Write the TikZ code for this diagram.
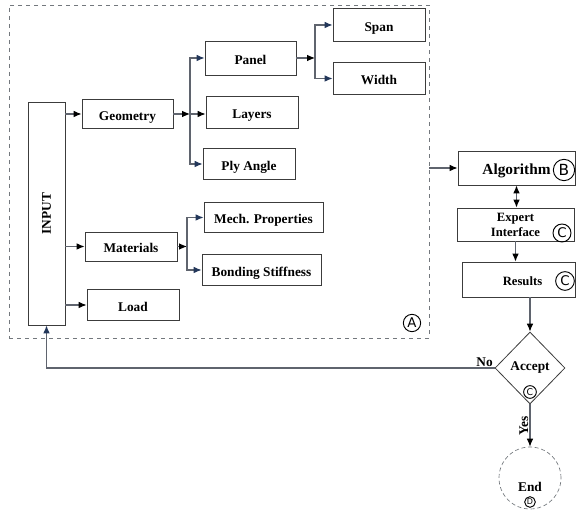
\documentclass[tikz,border=0pt]{standalone}
\usepackage{fontspec}
\setmainfont{Liberation Serif}
\newfontfamily\circfont{DejaVu Sans}
\usepackage{xcolor}
\usetikzlibrary{shapes.geometric,arrows.meta,positioning,calc}
\definecolor{boxgray}{RGB}{60,60,60}
\definecolor{framegray}{RGB}{115,120,125}
\definecolor{linegray}{RGB}{95,100,110}
\definecolor{tipblue}{RGB}{35,55,90}

\begin{document}
\begin{tikzpicture}[
    x=0.75pt, y=-0.75pt,
    block/.style={rectangle, draw=boxgray, line width=0.65pt, inner sep=1pt, text height=9.5pt, text depth=0pt, font=\bfseries\fontsize{10}{12}\selectfont},
    tallbox/.style={rectangle, draw=boxgray, line width=0.65pt, inner sep=1pt, align=center, font=\bfseries\fontsize{9.5}{11.25}\selectfont},
    frame/.style={rectangle, draw=framegray, dashed, line width=0.7pt, minimum width=315pt, minimum height=249.75pt},
    decision/.style={diamond, draw=boxgray, line width=0.6pt, inner sep=0pt, minimum width=52.5pt, minimum height=54pt, font=\bfseries\fontsize{10}{12}\selectfont},
    terminal/.style={circle, draw=framegray, densely dashed, line width=0.5pt, minimum size=46.5pt},
    circled/.style={circle, draw=black, line width=0.7pt, inner sep=0pt, minimum size=13.5pt, font=\circfont\fontsize{10}{10}\selectfont},
    tag/.style={inner sep=1pt, font=\bfseries\fontsize{10}{12}\selectfont},
    link/.style={draw=linegray, line width=0.8pt, -{Latex[length=6pt,width=5pt,color=black]}},
    bluelink/.style={draw=linegray, line width=0.8pt, -{Latex[length=6pt,width=5pt,color=tipblue]}}
]
    \useasboundingbox (0,0) rectangle (576,513);

    % input group
    \node[frame] (frameA) at (219,171.5) {};
    \node[circled, minimum size=13pt] (markA) at (412,323) {A};

    \node[tallbox, minimum width=27.75pt, minimum height=167.25pt, font=\bfseries\fontsize{10}{12}\selectfont] (input) at (46.5,213.5) {\rotatebox{90}{INPUT}};

    \node[block, minimum width=68.25pt, minimum height=21.75pt] (geometry) at (127.5,114) {Geometry};
    \node[block, minimum width=68.25pt, minimum height=25.5pt] (panel) at (250.5,58) {Panel};
    \node[block, minimum width=69pt, minimum height=24pt] (layers) at (252,112) {Layers};
    \node[block, minimum width=69pt, minimum height=23.25pt] (plyangle) at (249,164) {Ply Angle};
    \node[block, minimum width=69pt, minimum height=24.75pt] (span) at (379,25) {Span};
    \node[block, minimum width=69pt, minimum height=24pt] (width) at (379,78.5) {Width};

    \node[block, minimum width=69pt, minimum height=21.75pt] (materials) at (131,246.5) {Materials};
    \node[block, minimum width=89.25pt, minimum height=22.5pt] (mech) at (263.5,217.5) {Mech. Properties};
    \node[block, minimum width=89.25pt, minimum height=23.25pt] (bonding) at (261.5,270) {Bonding Stiffness};
    \node[block, minimum width=69pt, minimum height=23.25pt] (load) at (133,305) {Load};

    % process column
    \node[block, minimum width=87.75pt, minimum height=25.5pt, font=\bfseries\fontsize{11.5}{13}\selectfont] (algorithm) at (516.5,168) {Algorithm\hspace{12pt}};
    \node[circled, minimum size=16pt, font=\circfont\fontsize{11.5}{11.5}\selectfont] (markB) at (564,170) {B};
    \node[tallbox, minimum width=87.75pt, minimum height=24.75pt] (expert) at (515.5,224.5) {Expert\\Interface\hspace{8pt}};
    \node[circled] (markC1) at (562,233) {C};
    \node[block, minimum width=84.75pt, minimum height=26.25pt, font=\bfseries\fontsize{9.5}{11}\selectfont] (results) at (518.5,279.5) {\hspace{6pt}Results\hspace{6pt}};
    \node[circled, minimum size=14pt] (markC2) at (565,281) {C};

    \node[decision] (accept) at (530,368) {Accept};
    \node[circled, minimum size=9.5pt, font=\circfont\fontsize{7}{7}\selectfont] (markC3) at (530,392) {C};
    \node[terminal] (finish) at (530,478) {};
    \node[tag] (endtext) at (530,487) {End};
    \node[circled, minimum size=8pt, font=\circfont\fontsize{6}{6}\selectfont] (markD) at (530,502) {D};

    % branch points
    \coordinate (gsplit) at (190,114);
    \coordinate (psplit) at (315,58);
    \coordinate (msplit) at (187,246.5);

    \draw[link] (input.east |- geometry) -- (geometry);
    \draw[link] (input.east |- materials) -- (materials);
    \draw[link] (input.east |- load) -- (load);

    \draw[link] (geometry) -- (gsplit);
    \draw[link] (gsplit) -- (gsplit -| layers.west);
    \draw[bluelink] (gsplit) |- (panel);
    \draw[bluelink] (gsplit) |- (plyangle);

    \draw[link] (panel) -- (psplit);
    \draw[bluelink] (psplit) |- (span);
    \draw[bluelink] (psplit) |- (width);

    \draw[link] (materials) -- (msplit);
    \draw[bluelink] (msplit) |- (mech);
    \draw[bluelink] (msplit) |- (bonding);

    \draw[link] (frameA.east |- algorithm) -- (algorithm);
    \draw[link, {Latex[length=6pt,width=5pt,color=black]}-{Latex[length=6pt,width=5pt,color=black]}] (algorithm.south) -- (algorithm.south |- expert.north);
    \draw[link] (expert.south) -- (expert.south |- results.north);
    \draw[link] (results.south -| accept.north) -- (accept.north);
    \draw[link] (accept.south) -- node[tag, midway, rotate=90, above] {Yes} (finish.north);
    \draw[bluelink] (accept.west) node[tag, above left] {No} -| (input.south);
\end{tikzpicture}
\end{document}
